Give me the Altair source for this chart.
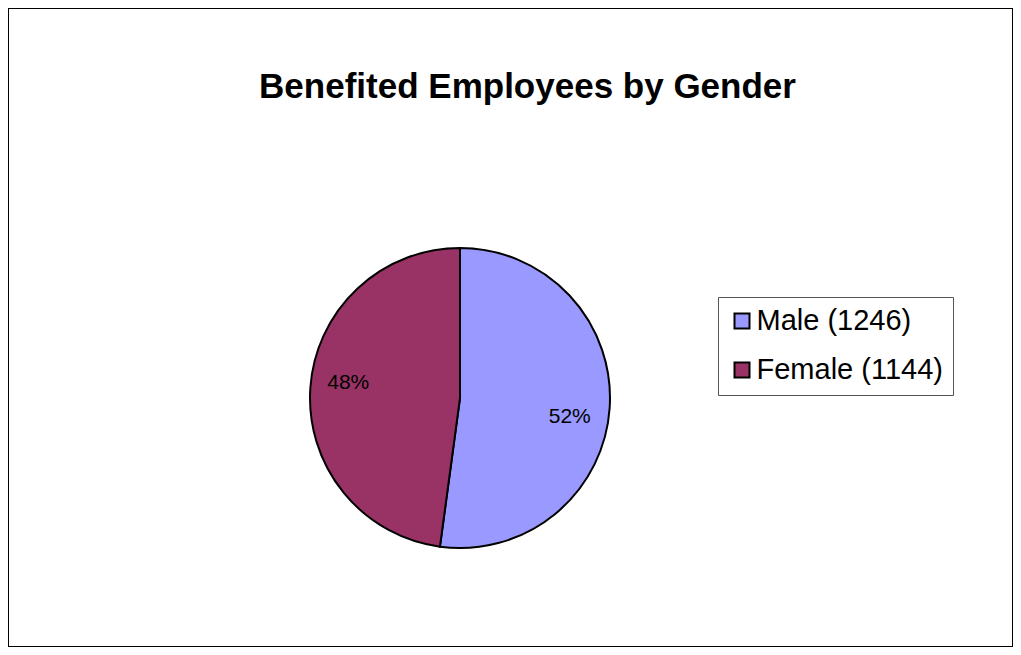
import altair as alt
import pandas as pd

# Data
categories = ["Male (1246)", "Female (1144)"]
counts = [1246, 1144]
order_idx = [0, 1]
colors = ["#9999FF", "#993366"]
title_text = "Benefited Employees by Gender"

df = pd.DataFrame({"gender": categories, "count": counts, "idx": order_idx})

FONT = "Liberation Sans"
CX, CY, R = 452, 390, 150

base = alt.Chart(df).transform_joinaggregate(
    total="sum(count)"
).transform_calculate(
    pct="format(datum.count / datum.total, '.0%')"
)

pie = base.mark_arc(
    stroke="black", strokeWidth=2, outerRadius=R
).encode(
    theta=alt.Theta("count:Q", stack=True),
    order=alt.Order("idx:Q"),
    color=alt.Color(
        "gender:N",
        scale=alt.Scale(domain=categories, range=colors),
        legend=alt.Legend(
            title=None,
            orient="none",
            legendX=710,
            legendY=289,
            symbolType="square",
            symbolSize=225,
            symbolStrokeColor="black",
            symbolStrokeWidth=2,
            labelFont=FONT,
            labelFontSize=29,
            labelColor="black",
            labelOffset=0,
            rowPadding=19,
            padding=9.5,
            strokeColor="#555555",
            fillColor="white",
            labelLimit=400,
        ),
    ),
    x=alt.value(CX),
    y=alt.value(CY),
)

# label positions: middle of each slice, as a fraction of the whole
labels_base = alt.Chart(df).transform_joinaggregate(
    total="sum(count)"
).transform_window(
    cum="sum(count)", sort=[alt.SortField("idx")]
).transform_calculate(
    mid="(datum.cum - datum.count / 2) / datum.total",
    pct="format(datum.count / datum.total, '.0%')",
)

def label_layer(name, dx, dy):
    return labels_base.transform_filter(alt.datum.gender == name).mark_text(
        radius=110, font=FONT, fontSize=21, color="black", dx=dx, dy=dy,
        baseline="middle", align="center"
    ).encode(
        theta=alt.Theta("mid:Q", stack=False, scale=alt.Scale(domain=[0, 1])),
        text="pct:N",
        x=alt.value(CX),
        y=alt.value(CY),
    )

lab_m = label_layer(categories[0], 0, 12)
lab_f = label_layer(categories[1], -2, -8)

title = alt.Chart(alt.Data(values=[{"t": title_text}])).mark_text(
    font=FONT, fontSize=35, fontWeight="bold", color="black",
    align="center", baseline="alphabetic"
).encode(
    text="t:N", x=alt.value(519.5), y=alt.value(90)
)

chart = alt.layer(pie, lab_m, lab_f, title).properties(
    width=1005, height=639,
    autosize=alt.AutoSizeParams(type="none"),
    padding=0,
    background="white",
).resolve_scale(theta="independent").configure_view(
    stroke="black", strokeWidth=2
)

chart.save("out.html", embed_options={"renderer": "svg", "actions": False})
